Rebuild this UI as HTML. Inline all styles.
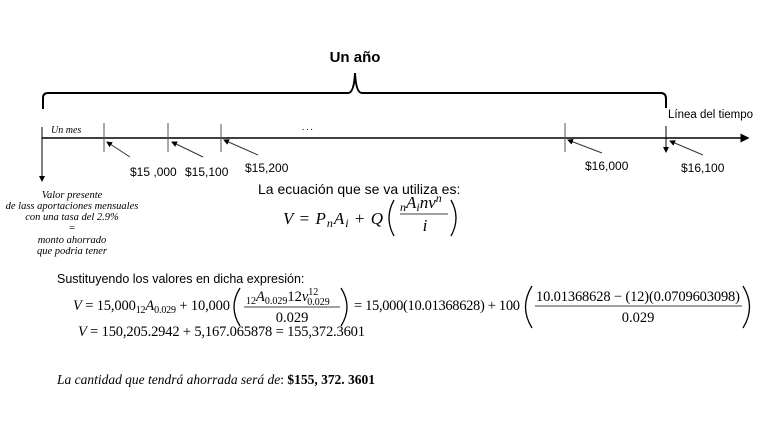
<!DOCTYPE html>
<html><head><meta charset="utf-8"><style>
html,body{margin:0;padding:0;background:#fff;width:768px;height:432px;overflow:hidden}
svg{display:block}
.s{font-family:"Liberation Sans",sans-serif}
.m{font-family:"Liberation Serif",serif}
.i{font-style:italic}
</style></head><body>
<svg width="768" height="432" viewBox="0 0 768 432" xmlns="http://www.w3.org/2000/svg">
<defs><marker id="ah" markerWidth="6" markerHeight="6" refX="5" refY="3" orient="auto"><path d="M0,0 L6,3 L0,6z" fill="#000"/></marker></defs>
<path d="M43,109 L43,98 Q43,93 48,93 L348,93 Q354,93 355,73 Q356,93 362,93 L661,93 Q666,93 666,99 L666,108" fill="none" stroke="#000" stroke-width="2"/>
<text x="355" y="62" class="s" font-size="15" font-weight="bold" text-anchor="middle">Un año</text>
<text x="668" y="118" class="s" font-size="11.5">Línea del tiempo</text>
<line x1="42" y1="138" x2="748" y2="138" stroke="#000" stroke-width="1.5" marker-end="url(#ah)"/>
<line x1="42" y1="127" x2="42" y2="181" stroke="#000" stroke-width="1" marker-end="url(#ah)"/>
<line x1="666" y1="126" x2="666" y2="152" stroke="#000" stroke-width="1" marker-end="url(#ah)"/>
<g stroke="#555" stroke-width="1">
<line x1="104" y1="123" x2="104" y2="152"/>
<line x1="168" y1="123" x2="168" y2="152"/>
<line x1="221" y1="124" x2="221" y2="152"/>
<line x1="565" y1="123" x2="565" y2="152"/>
</g>
<g stroke="#333" stroke-width="1" marker-end="url(#ah)">
<line x1="130" y1="157" x2="107" y2="142"/>
<line x1="203" y1="157" x2="172" y2="142"/>
<line x1="258" y1="155" x2="224" y2="140"/>
<line x1="602" y1="153" x2="568" y2="140"/>
<line x1="703" y1="155" x2="670" y2="141"/>
</g>
<text x="51" y="133" class="m i" font-size="10">Un mes</text>
<text x="302" y="130" class="m" font-size="9" letter-spacing="2">...</text>
<g class="s" font-size="12">
<text x="130" y="176">$15 ,000</text>
<text x="185" y="176">$15,100</text>
<text x="245" y="172">$15,200</text>
<text x="585" y="170">$16,000</text>
<text x="681" y="172">$16,100</text>
</g>
<g class="m i" font-size="10.5" text-anchor="middle">
<text x="72" y="198">Valor presente</text>
<text x="72" y="209">de lass aportaciones mensuales</text>
<text x="72" y="220">con una tasa del 2.9%</text>
<text x="72" y="231">=</text>
<text x="72" y="243">monto ahorrado</text>
<text x="72" y="254">que podria tener</text>
</g>
<text x="258" y="194" class="s" font-size="14">La ecuación que se va utiliza es:</text>
<g class="m" font-size="17">
<text x="283" y="224" textLength="100"><tspan class="i">V</tspan> = <tspan class="i">P</tspan><tspan class="i" font-size="12" dy="3">n</tspan><tspan class="i" dy="-3">A</tspan><tspan class="i" font-size="12" dy="3">i</tspan><tspan dy="-3"> + </tspan><tspan class="i">Q</tspan></text>
<path d="M394,200 Q384,218 394,236" fill="none" stroke="#000" stroke-width="1.3"/>
<path d="M451,200 Q461,218 451,236" fill="none" stroke="#000" stroke-width="1.3"/>
<text x="400" y="208"><tspan class="i" font-size="12" dy="3">n</tspan><tspan class="i" dy="-3">A</tspan><tspan class="i" font-size="12" dy="3">i</tspan><tspan class="i" dy="-3">nv</tspan><tspan class="i" font-size="12" dy="-6">n</tspan></text>
<line x1="400" y1="214" x2="448" y2="214" stroke="#000" stroke-width="0.8"/>
<text x="425" y="231" class="i" text-anchor="middle">i</text>
</g>
<text x="57" y="283" class="s" font-size="12.5">Sustituyendo los valores en dicha expresión:</text>
<g class="m" font-size="14.5">
<text x="73" y="310" textLength="157"><tspan class="i">V</tspan> = 15,000<tspan font-size="10" dy="3">12</tspan><tspan class="i" dy="-3">A</tspan><tspan font-size="10" dy="3">0.029</tspan><tspan dy="-3"> + 10,000</tspan></text>
<path d="M240,288 Q228,307 240,326" fill="none" stroke="#000" stroke-width="1.3"/>
<path d="M341,288 Q353,307 341,326" fill="none" stroke="#000" stroke-width="1.3"/>
<text x="246" y="301"><tspan font-size="10" dy="3">12</tspan><tspan class="i" dy="-3">A</tspan><tspan font-size="10" dy="3">0.029</tspan><tspan dy="-3">12</tspan><tspan class="i">v</tspan><tspan font-size="10" dy="-6">12</tspan><tspan font-size="10" dx="-11" dy="10">0.029</tspan></text>
<line x1="244" y1="307" x2="340" y2="307" stroke="#000" stroke-width="0.8"/>
<text x="292" y="322" text-anchor="middle">0.029</text>
<text x="354" y="310" textLength="166">= 15,000(10.01368628) + 100</text>
<path d="M532,286 Q519,307 532,328" fill="none" stroke="#000" stroke-width="1.3"/>
<path d="M743,286 Q756,307 743,328" fill="none" stroke="#000" stroke-width="1.3"/>
<text x="638" y="301" text-anchor="middle" textLength="204">10.01368628 − (12)(0.0709603098)</text>
<line x1="535" y1="306" x2="742" y2="306" stroke="#000" stroke-width="0.8"/>
<text x="638" y="322" text-anchor="middle">0.029</text>
<text x="78" y="336" textLength="287"><tspan class="i">V</tspan> = 150,205.2942 + 5,167.065878 = 155,372.3601</text>
<text x="57" y="384" font-size="13.5" textLength="318"><tspan class="i">La cantidad que tendrá ahorrada será de</tspan>: <tspan font-weight="bold">$155, 372. 3601</tspan></text>
</g>
</svg>
</body></html>
